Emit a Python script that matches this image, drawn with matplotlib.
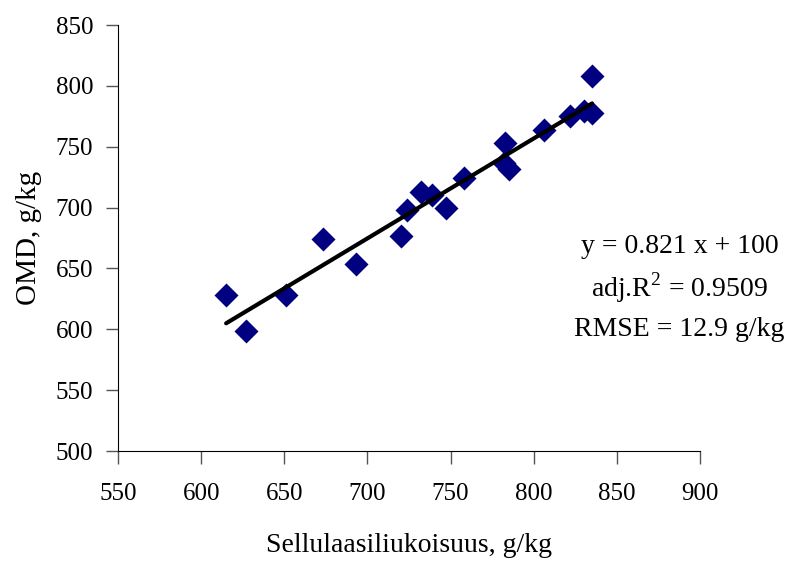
import matplotlib
matplotlib.use('Agg')
import matplotlib.pyplot as plt
import numpy as np

# Values
cellulase = [615, 627, 651, 673, 693, 720, 724, 732, 739, 747, 758,
             783, 782, 785, 806, 822, 830, 835, 835]
omd = [628, 599, 628, 674, 654, 677, 698, 713, 710, 700, 724,
       753, 737, 732, 764, 775, 779, 778, 808]

# Regression y = a x + b
slope = 0.821
intercept = 100
stats_text = ['y = 0.821 x + 100', 'adj.R$^2$ = 0.9509', 'RMSE = 12.9 g/kg']

plt.rcParams['font.family'] = ['Liberation Serif', 'DejaVu Serif']
plt.rcParams['mathtext.fontset'] = 'custom'
plt.rcParams['mathtext.rm'] = 'Liberation Serif'

fig = plt.figure(figsize=(7.87, 5.62), dpi=100)
ax = fig.add_axes([0.15, 0.1975, 0.7395, 0.758])

ax.scatter(cellulase, omd, marker='D', s=150, color='#000080', zorder=3,
           linewidths=0)

# Fitted line over the data range
xl = np.array([min(cellulase), max(cellulase)])
ax.plot(xl, slope * xl + intercept, color='black', linewidth=3,
        solid_capstyle='round', zorder=4)

ax.set_xlim(550, 900)
ax.set_ylim(500, 850)
ax.set_xticks(np.arange(550, 901, 50))
ax.set_yticks(np.arange(500, 851, 50))
ax.spines['top'].set_visible(False)
ax.spines['right'].set_visible(False)
ax.tick_params(direction='out', length=9, width=1, labelsize=18,
               color='#555555')
ax.tick_params(axis='x', pad=14)
ax.tick_params(axis='y', pad=9)

ax.set_xlabel('Sellulaasiliukoisuus, g/kg', fontsize=20, labelpad=20)
ax.set_ylabel('OMD, g/kg', fontsize=21, labelpad=10)

# Regression statistics, centred to the right of the data
for i, line in enumerate(stats_text):
    ax.text(0.965, 0.48 - i * 0.097, line, transform=ax.transAxes,
            ha='center', va='center', fontsize=20, clip_on=False)

fig.savefig('out.png', dpi=100)
